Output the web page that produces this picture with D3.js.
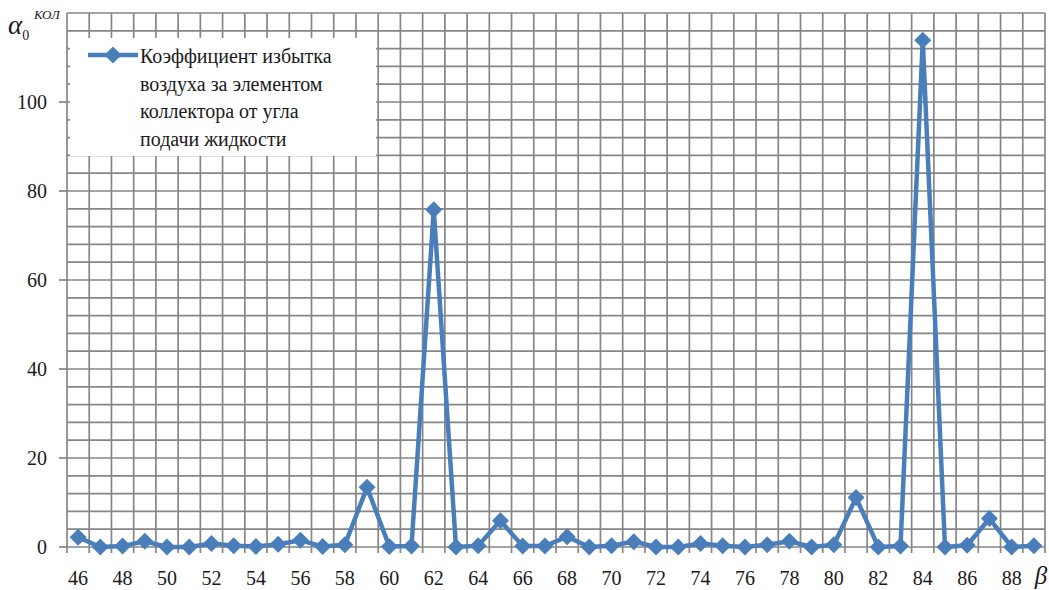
<!DOCTYPE html>
<html>
<head>
<meta charset="utf-8">
<script src="https://cdn.jsdelivr.net/npm/d3@7"></script>
<style>
  html, body { margin: 0; padding: 0; background: #fff; }
  svg { display: block; }
  svg text { font-family: "Times New Roman", Times, "Liberation Serif", "DejaVu Serif", "Noto Serif", serif; }
</style>
</head>
<body>
<svg id="chart" width="1049" height="590"></svg>
<script>
// Angle of liquid feed, degrees
const angles = [46,47,48,49,50,51,52,53,54,55,56,57,58,59,60,61,62,63,64,65,66,67,
                68,69,70,71,72,73,74,75,76,77,78,79,80,81,82,83,84,85,86,87,88,89];
// Excess air coefficient behind the collector element
const alphaValues = [2.2,0,0.2,1.3,0,0,0.8,0.3,0.1,0.6,1.5,0.1,0.5,13.4,0.1,0.2,75.8,0,0.3,5.9,0.2,0.2,
                     2.3,0,0.3,1.2,0,0,0.8,0.3,0,0.5,1.3,0,0.5,11.1,0,0.2,113.9,0,0.4,6.4,0,0.3];
const yTicks = [0, 20, 40, 60, 80, 100];
const xTickLabels = [46,48,50,52,54,56,58,60,62,64,66,68,70,72,74,76,78,80,82,84,86,88];
const legendLines = ["Коэффициент избытка", "воздуха за элементом", "коллектора от угла", "подачи жидкости"];

const svg = d3.select("#chart");
const plot = { left: 67, right: 1045, top: 13, bottom: 547 };
const blue = "#4a7ebb";
const gridColor = "#868686";
const textColor = "#1a1a1a";

const x = d3.scaleBand().domain(angles).range([plot.left, plot.right]).padding(0);
const y = d3.scaleLinear().domain([0, 120]).range([plot.bottom, plot.top]);

// Grid: horizontal lines every 4 units, vertical lines at category boundaries
const grid = svg.append("g");
grid.selectAll("line.h").data(d3.range(0, 121, 4)).join("line")
  .attr("x1", plot.left).attr("x2", plot.right)
  .attr("y1", d => y(d)).attr("y2", d => y(d))
  .attr("stroke", gridColor).attr("stroke-width", 1.7);
const edges = angles.map(a => x(a)).concat([plot.right]);
grid.selectAll("line.v").data(edges).join("line")
  .attr("x1", d => d).attr("x2", d => d)
  .attr("y1", plot.top).attr("y2", plot.bottom + 6)
  .attr("stroke", gridColor).attr("stroke-width", 1.7);

// Y axis ticks and labels
const yAxis = svg.append("g");
yAxis.selectAll("line").data(yTicks).join("line")
  .attr("x1", plot.left - 8).attr("x2", plot.left)
  .attr("y1", d => y(d)).attr("y2", d => y(d))
  .attr("stroke", gridColor).attr("stroke-width", 1.7);
yAxis.selectAll("text").data(yTicks).join("text")
  .attr("x", 47).attr("y", d => y(d)).attr("dy", "0.35em")
  .attr("text-anchor", "end").attr("font-size", 20).attr("fill", textColor)
  .text(d => d);

// X axis labels
svg.append("g").selectAll("text").data(xTickLabels).join("text")
  .attr("x", d => x(d) + x.bandwidth() / 2).attr("y", 585)
  .attr("text-anchor", "middle").attr("font-size", 20).attr("fill", textColor)
  .text(d => d);

// Axis titles
svg.append("text").attr("x", 1041).attr("y", 584).attr("text-anchor", "middle")
  .attr("fill", textColor).attr("font-size", 25).attr("font-style", "italic").text("β");
const yt = svg.append("text").attr("x", 8).attr("y", 34).attr("font-size", 27)
  .attr("fill", textColor).attr("font-style", "italic");
yt.append("tspan").text("α");
yt.append("tspan").attr("font-size", 14).attr("font-style", "normal").attr("dy", 6).text("0");
svg.append("text").attr("x", 34).attr("y", 19).attr("font-size", 13)
  .attr("fill", textColor).attr("font-style", "italic").text("КОЛ");

// Data line with diamond markers
const line = d3.line().x((d, i) => x(angles[i]) + x.bandwidth() / 2).y(d => y(d));
svg.append("path").datum(alphaValues)
  .attr("d", line).attr("fill", "none")
  .attr("stroke", blue).attr("stroke-width", 4.5).attr("stroke-linejoin", "miter");
const r = 8.5;
const diamond = `M0,${-r}L${r},0L0,${r}L${-r},0Z`;
svg.append("g").selectAll("path").data(alphaValues).join("path")
  .attr("d", diamond)
  .attr("transform", (d, i) => `translate(${x(angles[i]) + x.bandwidth() / 2},${y(d)})`)
  .attr("fill", blue);

// Legend
const lg = svg.append("g");
lg.append("rect").attr("x", 70).attr("y", 38).attr("width", 306).attr("height", 118).attr("fill", "#fff");
lg.append("line").attr("x1", 88).attr("x2", 138).attr("y1", 55).attr("y2", 55)
  .attr("stroke", blue).attr("stroke-width", 4.5);
lg.append("path").attr("d", diamond).attr("transform", "translate(113,55)").attr("fill", blue);
lg.selectAll("text").data(legendLines).join("text")
  .attr("x", 140).attr("y", (d, i) => 63 + i * 27.5)
  .attr("font-size", 20).attr("fill", textColor)
  .text(d => d);
</script>
</body>
</html>
